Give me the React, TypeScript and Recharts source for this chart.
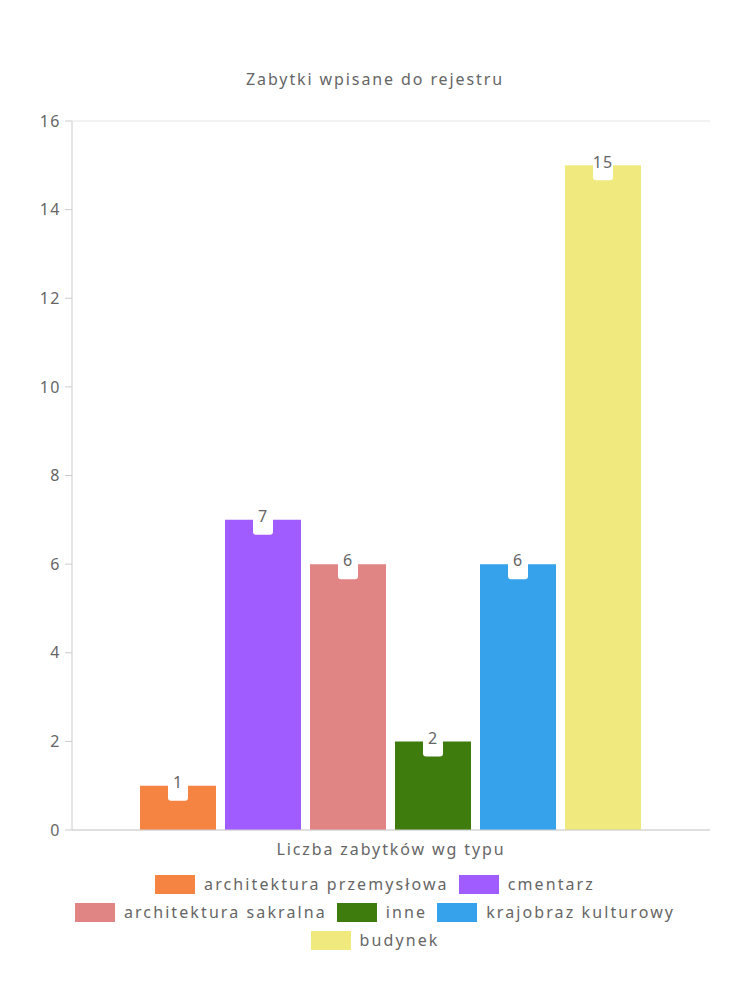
import { BarChart, Bar, XAxis, YAxis, CartesianGrid, Legend, LabelList } from "recharts";

const CATEGORY = "Liczba zabytków wg typu";
const SERIES_NAMES = [
  "architektura przemysłowa",
  "cmentarz",
  "architektura sakralna",
  "inne",
  "krajobraz kulturowy",
  "budynek",
];
const SERIES_VALUES = [1, 7, 6, 2, 6, 15];
const SERIES_COLORS = ["#f58442", "#a15cff", "#e08484", "#3e7c0e", "#36a2eb", "#f0ea7e"];
const Y_TICKS = [0, 2, 4, 6, 8, 10, 12, 14, 16];

const FONT = "'Noto Sans', sans-serif";
const TEXT = "#666666";
const SPACING = 2.1;

const row: Record<string, string | number> = { name: CATEGORY };
SERIES_NAMES.forEach((n, i) => {
  row[n] = SERIES_VALUES[i];
});
const data = [row];

// white tab with the value, sitting on the top edge of each bar
const ValueTag = (props: any) => {
  const { x, y, width, value } = props;
  const cx = x + width / 2;
  return (
    <g>
      <rect x={cx - 10} y={y - 14} width={20} height={29} rx={3} fill="#ffffff" />
      <text
        x={cx}
        y={y - 2}
        textAnchor="middle"
        dominantBaseline="middle"
        fontSize={16}
        letterSpacing={1}
        fill={TEXT}
        fontFamily={FONT}
      >
        {value}
      </text>
    </g>
  );
};

const LegendBox = () => (
  <div
    style={{
      display: "flex",
      flexWrap: "wrap",
      justifyContent: "center",
      alignContent: "flex-start",
      width: 660,
      margin: "0 auto",
      paddingTop: 10,
      height: 86,
      fontFamily: FONT,
      fontSize: 16,
      letterSpacing: SPACING,
      color: TEXT,
    }}
  >
    {SERIES_NAMES.map((n, i) => (
      <div key={n} style={{ display: "flex", alignItems: "center", height: 28, margin: "0 5px" }}>
        <span style={{ width: 40, height: 19, background: SERIES_COLORS[i], marginRight: 9 }} />
        <span>{n}</span>
      </div>
    ))}
  </div>
);

export default function App() {
  return (
    <div style={{ position: "absolute", left: 0, top: 0, width: 750, height: 1000, background: "#fff" }}>
      <div
        style={{
          position: "absolute",
          top: 68,
          left: 0,
          width: 750,
          textAlign: "center",
          fontFamily: FONT,
          fontSize: 16,
          letterSpacing: 1.9,
          color: TEXT,
        }}
      >
        Zabytki wpisane do rejestru
      </div>
      <BarChart
        width={750}
        height={1000}
        data={data}
        margin={{ top: 121, right: 40, left: 0, bottom: 44 }}
        barGap={9}
        barCategoryGap={68}
      >
        <CartesianGrid stroke="#e6e6e6" vertical={false} />
        <XAxis
          dataKey="name"
          tickLine={false}
          stroke="#cccccc"
          height={30}
          tick={{ fill: TEXT, fontSize: 16, fontFamily: FONT, letterSpacing: 1.9, dy: 6 }}
        />
        <YAxis
          yAxisId="left"
          domain={[0, 16]}
          ticks={Y_TICKS}
          width={72}
          stroke="#cccccc"
          tickSize={7}
          tickMargin={4}
          tick={{ fill: TEXT, fontSize: 16, fontFamily: FONT, letterSpacing: 1.5 }}
        />
        <YAxis
          yAxisId="right"
          orientation="right"
          domain={[0, 16]}
          width={0}
          tick={false}
          tickLine={false}
          stroke="#e6e6e6"
        />
        <Legend verticalAlign="bottom" content={<LegendBox />} wrapperStyle={{ left: 0, width: 750 }} />
        {SERIES_NAMES.map((n, i) => (
          <Bar key={n} yAxisId="left" dataKey={n} fill={SERIES_COLORS[i]} isAnimationActive={false}>
            <LabelList dataKey={n} content={<ValueTag />} />
          </Bar>
        ))}
      </BarChart>
    </div>
  );
}
